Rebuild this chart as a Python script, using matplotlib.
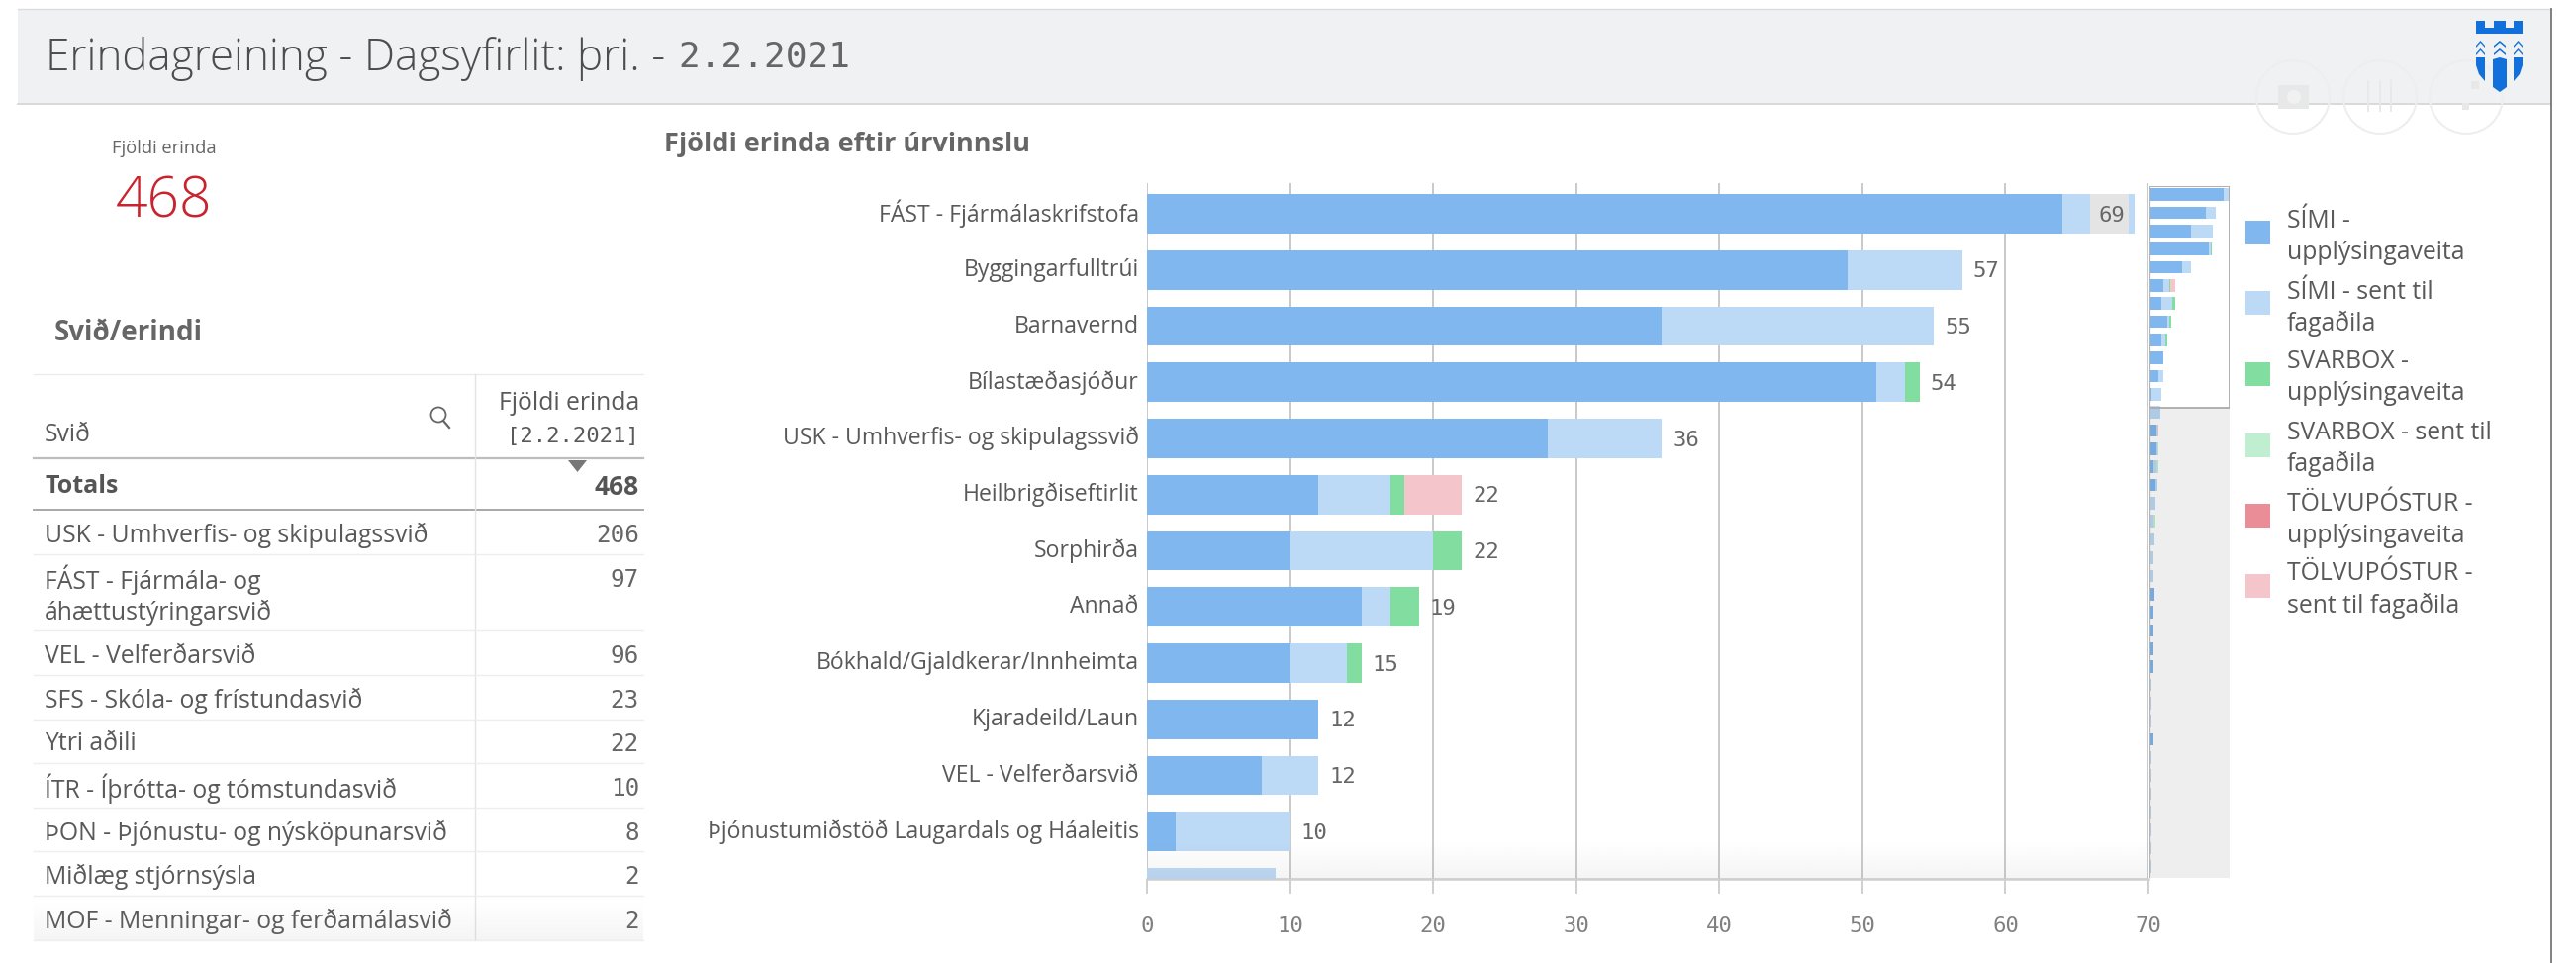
import matplotlib
matplotlib.use("Agg")
import matplotlib.pyplot as plt
import numpy as np
from matplotlib.patches import Circle, Polygon, Rectangle
from matplotlib.transforms import ScaledTranslation

W, H = 2603, 973
FONT = "Open Sans"
MONO = "DejaVu Sans Mono"

categories = [
    "FÁST - Fjármálaskrifstofa", "Byggingarfulltrúi", "Barnavernd", "Bílastæðasjóður",
    "USK - Umhverfis- og skipulagssvið", "Heilbrigðiseftirlit", "Sorphirða", "Annað",
    "Bókhald/Gjaldkerar/Innheimta", "Kjaradeild/Laun", "VEL - Velferðarsvið",
    "Þjónustumiðstöð Laugardals og Háaleitis", "",
]
# 38 rows in total, only the first ones are in the scrolled main view
simi_upp = [64, 49, 36, 51, 28, 12, 10, 15, 10, 12, 8, 2, 0, 6, 6, 3, 5, 0, 1, 0, 0, 0, 4,
            3, 3, 3, 3, 0, 0, 0, 3, 0, 0, 0, 0, 0, 0, 0]
simi_sent = [5, 8, 19, 2, 8, 5, 10, 2, 4, 0, 4, 8, 9, 1, 1, 3, 2, 5, 2, 4, 3, 3, 0,
             0, 0, 0, 0, 2, 2, 2, 0, 2, 2, 2, 2, 2, 2, 2]
svar_upp = [0, 0, 0, 1, 0, 1, 2, 2, 1, 0, 0, 0, 0, 0, 0, 0, 0, 0, 0, 0, 0, 0, 0,
            0, 0, 0, 0, 0, 0, 0, 0, 0, 0, 0, 0, 0, 0, 0]
svar_sent = [0, 0, 0, 0, 0, 0, 0, 0, 0, 0, 0, 0, 0, 0, 1, 2, 0, 0, 2, 0, 0, 0, 0,
             0, 0, 0, 0, 0, 0, 0, 0, 0, 0, 0, 0, 0, 0, 0]
tolv_upp = [0] * 38
tolv_sent = [0, 0, 0, 0, 0, 4, 0, 0, 0, 0, 0, 0, 0, 1, 0, 0, 0, 0, 0, 0, 0, 0, 0,
             0, 0, 0, 0, 0, 0, 0, 0, 0, 0, 0, 0, 0, 0, 0]
series = [simi_upp, simi_sent, svar_upp, svar_sent, tolv_upp, tolv_sent]
series_colors = ["#7fb7ee", "#bcd9f6", "#81dea0", "#c0eed0", "#ea8d97", "#f4c6cc"]
legend_labels = ["SÍMI -\nupplýsingaveita", "SÍMI - sent til\nfagaðila", "SVARBOX -\nupplýsingaveita",
                 "SVARBOX - sent til\nfagaðila", "TÖLVUPÓSTUR -\nupplýsingaveita", "TÖLVUPÓSTUR -\nsent til fagaðila"]
x_ticks = [0, 10, 20, 30, 40, 50, 60, 70]

table_names = ["USK - Umhverfis- og skipulagssvið", "FÁST - Fjármála- og\náhættustýringarsvið", "VEL - Velferðarsvið",
               "SFS - Skóla- og frístundasvið", "Ytri aðili", "ÍTR - Íþrótta- og tómstundasvið",
               "ÞON - Þjónustu- og nýsköpunarsvið", "Miðlæg stjórnsýsla", "MOF - Menningar- og ferðamálasvið"]
table_values = [206, 97, 96, 23, 22, 10, 8, 2, 2]
table_total = 468


def px_axes(x0, y_top, x1, y_bottom, **kw):
    return fig.add_axes([x0 / W, 1 - y_bottom / H, (x1 - x0) / W, (y_bottom - y_top) / H], **kw)


fig = plt.figure(figsize=(W / 100, H / 100), dpi=100, facecolor="white")

# main bars
row_h, row0 = 56.75, 216
ax = px_axes(1159, 185, 2171, 888, zorder=2)
left = np.zeros(13)
for vals, col in zip(series, series_colors):
    ax.barh(np.arange(13), vals[:13], left=left, height=0.7, color=col, zorder=3)
    left = left + np.array(vals[:13])
ax.grid(axis="x", color="#c9c9c9", lw=1.4, zorder=1)
ax.set_axisbelow(True)
for s in ["top", "right", "left"]:
    ax.spines[s].set_visible(False)
ax.spines["bottom"].set_color("#cfcfcf")
ax.spines["bottom"].set_linewidth(1.8)
ax.set_xticks(x_ticks)
ax.set_xticklabels(x_ticks, family=MONO, fontsize=16, color="#808080")
ax.tick_params(axis="x", length=11, width=1.4, color="#cfcfcf", pad=16)
ax.set_yticks(np.arange(13))
ax.set_yticklabels(categories, fontsize=16.6, color="#595959", family=FONT)
ax.tick_params(axis="y", length=0, pad=6)
for lab in ax.get_yticklabels():
    lab.set_transform(lab.get_transform() + ScaledTranslation(0, 3 / 100, fig.dpi_scale_trans))
# limits after the ticks, set_yticks would otherwise widen them to hold row 13
ax.set_xlim(0, 70)
ax.set_ylim((888 - row0) / row_h, (185 - row0) / row_h)
for i, total in enumerate(left[:12]):
    if i == 0:
        # no room after the longest bar, the label sits inside on a grey patch
        ax.barh(i, 2.7, left=total - 3.1, height=0.7, color="#e4e4e4", zorder=4)
        ax.text(total - 1.6, i + 0.03, f"{int(total)}", family=MONO, fontsize=16, color="#666666",
                ha="center", va="center", zorder=5)
    else:
        ax.text(total + 0.75, i + 0.03, f"{int(total)}", family=MONO, fontsize=16, color="#666666",
                va="center", zorder=5)

# mini chart / scrollbar on the right of the bars
mini_h, mini0 = 18.35, 196.5
mini = px_axes(2172, 188, 2253, 887, zorder=3)
win_top = (188 - mini0) / mini_h
win_bottom = (412 - mini0) / mini_h
left = np.zeros(38)
for vals, col in zip(series, series_colors):
    mini.barh(np.arange(38), vals, left=left, height=0.69, color=col, zorder=2)
    left = left + np.array(vals)
mini.set_xlim(0, 69.3)
mini.set_ylim((887 - mini0) / mini_h, win_top)
# rows outside the visible window are dimmed with the grey of the scroll track
mini.add_patch(Rectangle((0, win_bottom), 69.3, 40, fc="black", alpha=0.067, ec="none", zorder=3))
mini.add_patch(Rectangle((0, win_top), 69.3, win_bottom - win_top, fc="none", ec="#aaaaaa", lw=1.3, zorder=4))
mini.axvline(0, color="#b5b5b5", lw=1.6, zorder=5)
mini.set_xticks([])
mini.set_yticks([])
for s in mini.spines.values():
    s.set_visible(False)

# everything else is placed in image pixels
page = fig.add_axes([0, 0, 1, 1], zorder=5)
page.set_xlim(0, W)
page.set_ylim(H, 0)
page.axis("off")
page.patch.set_alpha(0)

page.add_patch(Rectangle((18, 9), 2560, 96, fc="#f0f1f3", ec="none", zorder=0))
page.plot([18, 2578], [105, 105], color="#d5d7d9", lw=1.3, zorder=1)
page.plot([18, 2578], [9, 9], color="#dcdcdc", lw=1.0, zorder=1)
page.plot([2578, 2578], [9, 973], color="#777777", lw=1.3, zorder=1)

title = page.text(46, 60, "Erindagreining - Dagsyfirlit: þri. - ", family=FONT, fontsize=31.7, weight=300,
                  color="#4d4d4d", va="center")
fig.canvas.draw()
title_end = title.get_window_extent().x1
page.text(title_end + 2, 58, "2.2.2021", family=MONO, fontsize=26, color="#666666", va="center")

# ghost toolbar icons
for cx in [2317, 2405, 2492]:
    page.add_patch(Circle((cx, 98), 37, fc="none", ec="#eeeeef", lw=1.5, zorder=2))
page.add_patch(Rectangle((2302, 86), 31, 24, fc="#e8e8e9", ec="none", zorder=2))
page.add_patch(Circle((2318, 98), 7, fc="#f0f1f3", ec="none", zorder=3))
for sx in [2393, 2405, 2416]:
    page.plot([sx, sx], [82, 112], color="#e9e9ea", lw=1.4, zorder=2)
page.add_patch(Rectangle((2488, 104), 7, 7, fc="#e8e8e9", ec="none", zorder=2))
page.add_patch(Rectangle((2497, 82), 8, 8, fc="#e8e8e9", ec="none", zorder=2))

# logo
blue = "#1170dc"
for x0, x1 in [(2502, 2511), (2520, 2532), (2540, 2549)]:
    page.add_patch(Rectangle((x0, 21), x1 - x0, 13, fc=blue, ec="none", zorder=3))
page.add_patch(Rectangle((2502, 28), 47, 6, fc=blue, ec="none", zorder=3))
for cx, half in [(2506.5, 4.5), (2526, 6), (2544.5, 4.5)]:
    for wy in [43, 51]:
        page.add_patch(Polygon([(cx - half, wy + 3), (cx, wy - 2), (cx + half, wy + 3), (cx + half, wy + 5),
                                (cx, wy), (cx - half, wy + 5)], fc=blue, ec="none", zorder=3))
page.add_patch(Polygon([(2519, 60), (2526, 58), (2533, 60), (2533, 88), (2526, 93), (2519, 88)], fc=blue, ec="none", zorder=3))
page.add_patch(Polygon([(2502, 58), (2511, 58), (2511, 82), (2505, 75), (2502, 66)], fc=blue, ec="none", zorder=3))
page.add_patch(Polygon([(2540, 58), (2549, 58), (2549, 66), (2546, 75), (2540, 82)], fc=blue, ec="none", zorder=3))

# KPI
page.text(166, 150, "Fjöldi erinda", family=FONT, fontsize=13.2, color="#666666", ha="center", va="center")
page.text(166, 205, f"{table_total}", family=FONT, fontsize=41, weight=300, color="#c8242f", ha="center", va="center")

page.text(55, 336, "Svið/erindi", family=FONT, fontsize=20, weight="bold", color="#666666", va="center")
page.text(671, 146, "Fjöldi erinda eftir úrvinnslu", family=FONT, fontsize=19.5, weight="bold", color="#666666", va="center")

# table
TXT = 17.8
dy = 3
tx0, tx1, tdiv, tnum = 34, 650, 479.5, 646
row_lines = [560, 637, 682, 727, 771, 816, 860, 905, 950]
row_y = [538, 583, 660, 705, 749, 794, 839, 883, 928]
page.plot([tx0, tx1], [378, 378], color="#ebebeb", lw=1)
page.plot([tx0, tx1], [463, 463], color="#bdbdbd", lw=1.6)
page.plot([tx0, tx1], [515, 515], color="#a8a8a8", lw=1.4)
page.plot([tdiv, tdiv], [378, 950], color="#e3e3e3", lw=1)
for y in row_lines:
    page.plot([tx0, tx1], [y, y], color="#eeeeee", lw=1)
page.text(45, 437 + dy, "Svið", family=FONT, fontsize=TXT, color="#595959", va="center")
page.add_patch(Circle((443, 419), 7.5, fc="none", ec="#666666", lw=1.3))
page.plot([448, 454], [425, 432], color="#666666", lw=1.6)
page.text(tnum, 405 + dy, "Fjöldi erinda", family=FONT, fontsize=TXT, color="#595959", ha="right", va="center")
page.text(tnum, 438 + dy, "[2.2.2021]", family=MONO, fontsize=16, color="#595959", ha="right", va="center")
page.add_patch(Polygon([(574, 465), (593, 465), (583.5, 477)], fc="#777777", ec="none"))
page.text(45, 489 + dy, "Totals", family=FONT, fontsize=18, weight="bold", color="#555555", va="center")
page.text(tnum, 489 + dy, f"{table_total}", family=FONT, fontsize=19, weight="bold", color="#555555", ha="right", va="center")
for name, val, y in zip(table_names, table_values, row_y):
    if "\n" in name:
        first, second = name.split("\n")
        page.text(45, y + dy, first, family=FONT, fontsize=TXT, color="#595959", va="center")
        page.text(45, y + 33 + dy, second, family=FONT, fontsize=TXT, color="#595959", va="center")
    else:
        page.text(45, y + dy, name, family=FONT, fontsize=TXT, color="#595959", va="center")
    page.text(tnum, y + dy, f"{val}", family=MONO, fontsize=17.5, color="#666666", ha="right", va="center")

# legend
legend_tops = [223, 294, 366, 438, 509, 580]
line_one = [220, 292, 363, 434, 506, 577]
for lab, col, top, ly in zip(legend_labels, series_colors, legend_tops, line_one):
    page.add_patch(Rectangle((2269, top), 25, 24, fc=col, ec="none"))
    first, second = lab.split("\n")
    page.text(2311, ly + dy, first, family=FONT, fontsize=TXT, color="#595959", va="center")
    page.text(2311, ly + 32 + dy, second, family=FONT, fontsize=TXT, color="#595959", va="center")

# soft fade at the bottom of the scrolled objects
fade = np.zeros((40, 1, 4))
fade[:, 0, :3] = 0.6
fade[:, 0, 3] = np.linspace(0, 0.1, 40)
page.imshow(fade, extent=(1159, 2171, 888, 850), aspect="auto", zorder=4)
page.imshow(fade, extent=(34, 650, 950, 910), aspect="auto", zorder=4)
page.set_xlim(0, W)
page.set_ylim(H, 0)

fig.savefig("out.png", dpi=100)
